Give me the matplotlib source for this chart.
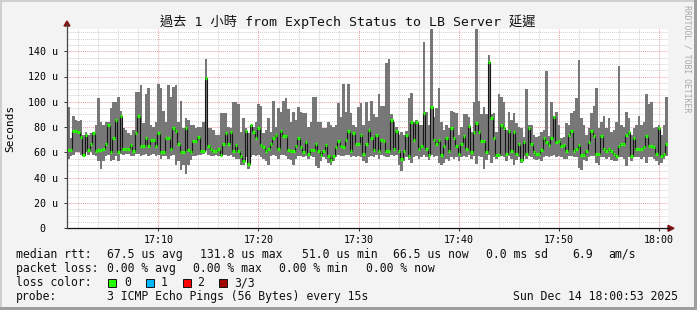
import numpy as np
import matplotlib
matplotlib.use('Agg')
import matplotlib.pyplot as plt
from matplotlib.patches import Polygon, Rectangle

# ---------------- data (microseconds), one sample every 15 s from 17:00:53 ----------------
median_us = [
    62, 62, 77, 77, 76, 72, 58, 74, 62, 67,
    75, 61, 62, 62, 63, 67, 82, 60, 71, 86,
    60, 89, 63, 63, 63, 66, 61, 75, 89, 65,
    65, 71, 65, 70, 70, 65, 75, 60, 60, 71,
    71, 63, 79, 77, 67, 60, 60, 79, 62, 60,
    69, 69, 72, 61, 61, 119, 65, 63, 61, 61,
    63, 58, 67, 75, 67, 76, 61, 66, 61, 57,
    53, 77, 51, 82, 76, 71, 79, 66, 64, 61,
    63, 67, 71, 74, 63, 77, 73, 73, 62, 61,
    61, 65, 71, 64, 60, 68, 59, 62, 62, 67,
    61, 58, 61, 66, 57, 54, 57, 64, 69, 65,
    64, 70, 77, 61, 75, 67, 67, 74, 59, 67,
    78, 71, 62, 74, 61, 70, 69, 61, 61, 86,
    63, 77, 61, 55, 61, 74, 57, 84, 70, 84,
    63, 65, 91, 63, 58, 96, 70, 67, 70, 58,
    65, 71, 61, 79, 71, 65, 59, 67, 73, 63,
    81, 60, 76, 83, 76, 69, 69, 60, 131.8, 87,
    71, 58, 58, 82, 79, 59, 77, 61, 76, 59,
    67, 54, 68, 59, 79, 67, 60, 59, 59, 62,
    71, 68, 66, 71, 88, 68, 69, 65, 66, 61,
    74, 77, 61, 63, 66, 58, 58, 61, 68, 77,
    73, 59, 59, 73, 63, 61, 63, 61, 59, 57,
    65, 67, 67, 74, 76, 57, 71, 63, 63, 63,
    64, 73, 65, 65, 64, 59, 79, 57, 59, 66.5,
]
max_us = [
    96, 71, 89, 86, 85, 86, 74, 76, 74, 75,
    76, 82, 103, 84, 82, 84, 84, 95, 100, 100,
    104, 93, 79, 78, 75, 74, 78, 108, 108, 113,
    83, 106, 111, 82, 80, 84, 114, 111, 93, 84,
    113, 104, 112, 113, 84, 101, 79, 87, 86, 82,
    82, 79, 80, 80, 84, 134, 79, 79, 78, 74,
    74, 91, 91, 91, 80, 79, 100, 100, 98, 76,
    87, 79, 75, 82, 80, 84, 98, 97, 75, 78,
    87, 76, 101, 80, 95, 92, 101, 103, 94, 84,
    92, 86, 96, 92, 91, 91, 80, 84, 104, 104,
    84, 84, 79, 79, 84, 82, 80, 82, 99, 88,
    114, 92, 114, 91, 82, 80, 96, 99, 82, 100,
    85, 101, 90, 88, 106, 97, 97, 131, 134, 90,
    84, 80, 74, 76, 74, 77, 103, 107, 84, 86,
    82, 82, 147, 92, 82, 158, 88, 95, 111, 84,
    78, 82, 79, 93, 92, 91, 74, 80, 90, 90,
    88, 76, 100, 158, 101, 90, 96, 90, 137, 90,
    91, 76, 106, 104, 100, 78, 92, 86, 91, 83,
    80, 79, 72, 110, 82, 82, 74, 72, 73, 76,
    78, 124, 73, 100, 89, 92, 82, 71, 72, 83,
    82, 91, 93, 103, 133, 87, 82, 74, 79, 91,
    97, 111, 79, 84, 89, 79, 87, 76, 78, 84,
    128, 82, 80, 92, 87, 74, 79, 82, 89, 82,
    84, 106, 98, 100, 79, 80, 82, 74, 82, 104,
]
min_us = [
    55, 57, 58, 60, 60, 58, 57, 60, 58, 60,
    58, 57, 53, 47, 53, 57, 58, 53, 54, 57,
    53, 59, 58, 59, 59, 57, 57, 59, 59, 57,
    58, 59, 57, 58, 59, 57, 58, 55, 57, 57,
    55, 57, 58, 50, 53, 46, 50, 43, 50, 54,
    57, 57, 58, 58, 59, 61, 58, 57, 57, 58,
    57, 57, 58, 58, 57, 58, 56, 55, 55, 50,
    50, 56, 47, 56, 58, 57, 58, 56, 55, 53,
    50, 57, 58, 57, 55, 58, 58, 57, 55, 54,
    50, 55, 57, 57, 56, 57, 55, 57, 56, 49,
    48, 53, 56, 55, 52, 50, 53, 56, 58, 57,
    57, 58, 58, 56, 57, 56, 57, 56, 53, 52,
    56, 57, 56, 58, 55, 58, 57, 56, 56, 58,
    57, 58, 50, 45, 53, 56, 54, 52, 56, 57,
    55, 56, 58, 56, 54, 58, 56, 57, 52, 50,
    52, 55, 53, 56, 55, 56, 53, 56, 57, 56,
    58, 55, 57, 51, 57, 56, 47, 54, 58, 52,
    56, 55, 56, 57, 56, 53, 57, 55, 50, 54,
    56, 52, 57, 55, 57, 56, 55, 54, 55, 53,
    56, 57, 56, 57, 58, 56, 57, 56, 55, 55,
    57, 57, 56, 56, 48, 46, 54, 53, 56, 57,
    57, 52, 50, 56, 56, 55, 56, 54, 53, 53,
    56, 56, 55, 49, 56, 53, 56, 56, 56, 55,
    56, 52, 56, 56, 55, 53, 50, 52, 55, 57,
]
start_sec = 53          # seconds after 17:00:00
step_sec = 15
x_tick_secs = [600, 1200, 1800, 2400, 3000, 3600]
x_tick_labels = ["17:10", "17:20", "17:30", "17:40", "17:50", "18:00"]
y_tick_vals = [0, 20, 40, 60, 80, 100, 120, 140]
y_tick_labels = ["0  ", "20 u", "40 u", "60 u", "80 u", "100 u", "120 u", "140 u"]

title = "過去 1 小時 from ExpTech Status to LB Server 延遲"
legend_rows = [
    [(16, "median rtt:"), (107, "67.5 us avg"), (200, "131.8 us max"), (302, "51.0 us min"),
     (393, "66.5 us now"), (486, "0.0 ms sd"), (572, "6.9"), (608, "am/s")],
    [(16, "packet loss:"), (107, "0.00 % avg"), (193, "0.00 % max"), (279, "0.00 % min"),
     (366, "0.00 % now")],
    [(16, "loss color:")],
    [(16, "probe:"), (107, "3 ICMP Echo Pings (56 Bytes) every 15s"), (513, "Sun Dec 14 18:00:53 2025")],
]
loss_labels = ["0", "1", "2", "3/3"]
loss_colors = ["#26ff00", "#00b8ff", "#ff0000", "#a10000"]

# ---------------- figure ----------------
W, H = 697, 310
fig = plt.figure(figsize=(W / 100, H / 100), dpi=100)
fig.patch.set_facecolor('#f3f3f3')
MONO = 'DejaVu Sans Mono'
TFAM = ['DejaVu Sans Mono', 'Noto Sans CJK TC']

def fx(x):
    return x / W

def fy(y):
    return 1 - y / H

ymax = (228.3 - 29) / 1.265
ax = fig.add_axes([fx(67), fy(228.3), fx(668) - fx(67), fy(29) - fy(228.3)])
ax.set_facecolor('white')
t0 = start_sec
t1 = start_sec + step_sec * len(median_us)
ax.set_xlim(t0, t1)
ax.set_ylim(0, ymax)
for s in ax.spines.values():
    s.set_visible(False)

# grid
dot = (0, (1.0, 1.0))
for v in np.arange(5, ymax, 5):
    major = abs(v % 20) < 1e-6
    ax.axhline(v, color='#eaa0a0' if major else '#cfcfcf', lw=0.7, ls=dot, zorder=1)
for s in range(120, 3700, 120):
    if s <= t0 or s >= t1:
        continue
    major = s % 600 == 0
    ax.axvline(s, color='#eaa0a0' if major else '#cfcfcf', lw=0.7, ls=dot, zorder=1)

med = np.array(median_us, dtype=float)
lo = np.array(min_us, dtype=float)
hi = np.array(max_us, dtype=float)
t = start_sec + step_sec * np.arange(len(med))
edges = np.append(t, t[-1] + step_sec)

ax.fill_between(edges, np.append(lo, lo[-1]), np.append(hi, hi[-1]), step='post',
                color='#777777', linewidth=0, zorder=2)
ax.step(edges, np.append(med, med[-1]), where='post', color='#151515', lw=0.8, zorder=3)
ax.hlines(med, t, t + step_sec, colors='#26ff00', lw=2.3, zorder=4)

ax.set_yticks(y_tick_vals)
ax.set_yticklabels(y_tick_labels, family=MONO, fontsize=7.2)
ax.set_xticks(x_tick_secs)
ax.set_xticklabels(x_tick_labels, family=MONO, fontsize=7.2)
ax.tick_params(axis='y', length=2.5, width=0.7, color='#333333', pad=4.2)
ax.tick_params(axis='x', length=2.0, width=0.7, color='#333333', pad=2.5)

# axes lines + arrows
fig.add_artist(plt.Line2D([fx(67), fx(669)], [fy(228.3), fy(228.3)], color='#111111', lw=0.9))
fig.add_artist(plt.Line2D([fx(67), fx(67)], [fy(228.3), fy(24)], color='#444444', lw=0.9))
fig.add_artist(Polygon([(fx(64), fy(26)), (fx(70), fy(26)), (fx(67), fy(21))], closed=True,
                       transform=fig.transFigure, color='#7f1414'))
fig.add_artist(Polygon([(fx(668), fy(225.3)), (fx(668), fy(231.3)), (fx(674), fy(228.3))], closed=True,
                       transform=fig.transFigure, color='#7f1414'))

# texts
fig.text(fx(348), fy(21.5), title, family=TFAM, fontsize=9.5, ha='center', va='center', color='#111111')
fig.text(fx(10), fy(128.5), "Seconds", family=MONO, fontsize=8, rotation=90, ha='center', va='center')
fig.text(fx(687), fy(5), "RRDTOOL / TOBI OETIKER", family=MONO, fontsize=5.9, rotation=270,
         ha='center', va='top', color='#a8a8a8')

row_y = [254.3, 268.3, 282.7, 296.5]
for ry, row in zip(row_y, legend_rows):
    for x, txt in row:
        fig.text(fx(x), fy(ry), txt, family=MONO, fontsize=8.3, ha='left', va='center', color='#111111')

box_x = [108, 146, 183, 219]
lab_x = [124, 161, 197, 234]
for bx, lx, lab, col in zip(box_x, lab_x, loss_labels, loss_colors):
    fig.add_artist(Rectangle((fx(bx), fy(286.5)), fx(7.5), 7.5 / H, transform=fig.transFigure,
                             facecolor=col, edgecolor='#111111', lw=0.7))
    fig.text(fx(lx), fy(282.7), lab, family=MONO, fontsize=8.3, ha='left', va='center', color='#111111')

# frame
fig.add_artist(Rectangle((0, 1 - 2 / H), 1, 2 / H, transform=fig.transFigure, color='#cfcfcf', lw=0))
fig.add_artist(Rectangle((0, 0), 2 / W, 1, transform=fig.transFigure, color='#cfcfcf', lw=0))
fig.add_artist(Rectangle((0, 0), 1, 3 / H, transform=fig.transFigure, color='#9e9e9e', lw=0))
fig.add_artist(Rectangle((1 - 3 / W, 0), 3 / W, 1, transform=fig.transFigure, color='#9e9e9e', lw=0))

fig.savefig('out.png', dpi=100, facecolor=fig.get_facecolor())
